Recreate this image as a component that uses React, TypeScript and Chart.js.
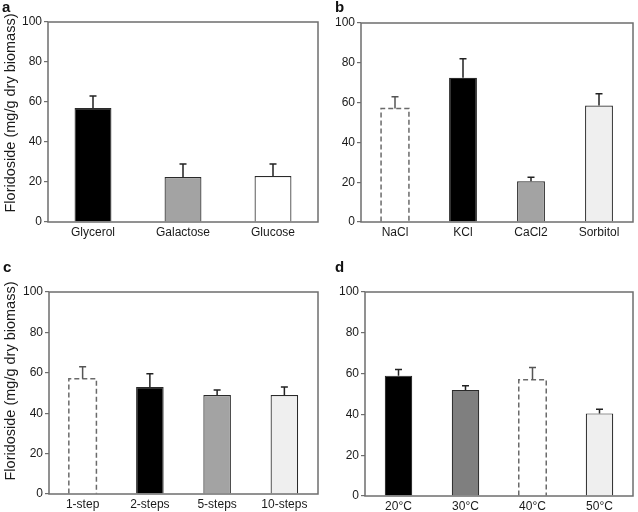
import React, { useEffect, useRef } from "react";
import { Chart, registerables } from "chart.js";

Chart.register(...registerables);

const yTicks = [0, 20, 40, 60, 80, 100];
const yTitle = "Floridoside (mg/g dry biomass)";

const catsA = ["Glycerol", "Galactose", "Glucose"];
const valsA = [57, 22.5, 23];
const errA = [6, 6.5, 6];
const colorsA = ["#000000", "#a3a3a3", "#ffffff"];
const dashA = [false, false, false];

const catsB = ["NaCl", "KCl", "CaCl2", "Sorbitol"];
const valsB = [57, 72.5, 20.5, 58.5];
const errB = [6, 9.5, 2, 6];
const colorsB = ["rgba(0,0,0,0)", "#000000", "#a3a3a3", "#efefef"];
const dashB = [true, false, false, false];

const catsC = ["1-step", "2-steps", "5-steps", "10-steps"];
const valsC = [57, 53, 49, 49];
const errC = [6, 6.5, 2.5, 4];
const colorsC = ["rgba(0,0,0,0)", "#000000", "#a3a3a3", "#efefef"];
const dashC = [true, false, false, false];

const catsD = ["20°C", "30°C", "40°C", "50°C"];
const valsD = [59, 52, 57, 40.5];
const errD = [3, 2, 6, 2];
const colorsD = ["#000000", "#7f7f7f", "rgba(0,0,0,0)", "#efefef"];
const dashD = [false, false, true, false];

const FONT = "'Liberation Sans', Arial, sans-serif";

type PanelProps = {
  letter: string;
  labels: string[];
  values: number[];
  errors: number[];
  colors: string[];
  dashed: boolean[];
  showTitle: boolean;
  titleX?: number;
  titleY?: number;
  left: number;
  top: number;
  width: number;
  height: number;
  area: { l: number; t: number; r: number; b: number };
  letterX: number;
  letterY: number;
};

function Panel(p: PanelProps) {
  const ref = useRef<HTMLCanvasElement | null>(null);
  useEffect(() => {
    if (!ref.current) return;
    const errPlugin = {
      id: "errbars",
      afterDatasetsDraw(chart: any) {
        const ctx = chart.ctx;
        const meta = chart.getDatasetMeta(0);
        const ys = chart.scales.y;
        ctx.save();
        meta.data.forEach((el: any, i: number) => {
          const half = el.width / 2;
          const yTop = el.y;
          const yBase = el.base;
          if (p.dashed[i]) {
            ctx.strokeStyle = "#6a6a6a";
            ctx.lineWidth = 1.5;
            ctx.setLineDash([5, 3]);
            ctx.beginPath();
            ctx.moveTo(el.x - half, yBase);
            ctx.lineTo(el.x - half, yTop);
            ctx.lineTo(el.x + half, yTop);
            ctx.lineTo(el.x + half, yBase);
            ctx.stroke();
            ctx.setLineDash([]);
          }
          const yErr = ys.getPixelForValue(p.values[i] + p.errors[i]);
          ctx.strokeStyle = p.dashed[i] ? "#555555" : "#222222";
          ctx.lineWidth = 1.5;
          ctx.beginPath();
          ctx.moveTo(el.x, yTop);
          ctx.lineTo(el.x, yErr);
          ctx.moveTo(el.x - 3.5, yErr);
          ctx.lineTo(el.x + 3.5, yErr);
          ctx.stroke();
        });
        ctx.restore();
      },
      afterDraw(chart: any) {
        const ctx = chart.ctx;
        const a = chart.chartArea;
        ctx.save();
        ctx.strokeStyle = "#6e6e6e";
        ctx.lineWidth = 1.5;
        ctx.strokeRect(a.left, a.top, a.right - a.left, a.bottom - a.top);
        ctx.fillStyle = "#111111";
        ctx.font = "bold 15px " + FONT;
        ctx.textBaseline = "middle";
        ctx.textAlign = "left";
        ctx.fillText(p.letter, p.letterX, p.letterY);
        if (p.showTitle) {
          ctx.translate(p.titleX || 11, p.titleY || 112);
          ctx.rotate(-Math.PI / 2);
          ctx.textAlign = "center";
          ctx.font = "14.5px " + FONT;
          ctx.fillStyle = "#1a1a1a";
          ctx.fillText(yTitle, 0, 0);
        }
        ctx.restore();
      },
    };
    const chart = new Chart(ref.current, {
      type: "bar",
      data: {
        labels: p.labels,
        datasets: [
          {
            data: p.values,
            backgroundColor: p.colors,
            borderColor: p.dashed.map((d) => (d ? "rgba(0,0,0,0)" : "#2a2a2a")),
            borderWidth: p.dashed.map((d) => (d ? 0 : 1.2)),
            borderSkipped: "bottom",
            barPercentage: 0.41,
            categoryPercentage: 1,
          },
        ],
      },
      options: {
        animation: false,
        responsive: false,
        devicePixelRatio: 1,
        layout: {
          padding: {
            left: 0,
            top: p.area.t,
            right: p.width - p.area.r,
            bottom: 0,
          },
        },
        plugins: {
          legend: { display: false },
          tooltip: { enabled: false },
        },
        scales: {
          x: {
            grid: { display: false, drawTicks: false },
            border: { display: false },
            ticks: {
              color: "#1a1a1a",
              font: { family: FONT, size: 12 },
              padding: 3,
              maxRotation: 0,
              autoSkip: false,
            },
            afterFit(scale: any) {
              scale.height = p.height - p.area.b;
            },
          },
          y: {
            min: 0,
            max: 100,
            afterBuildTicks(scale: any) {
              scale.ticks = yTicks.map((v) => ({ value: v }));
            },
            grid: {
              display: true,
              drawOnChartArea: false,
              drawTicks: true,
              tickLength: 4,
              color: "#6e6e6e",
              lineWidth: 1.2,
            },
            border: { display: false },
            ticks: {
              color: "#1a1a1a",
              font: { family: FONT, size: 12 },
              padding: 2,
            },
            title: { display: false },
            afterFit(scale: any) {
              scale.width = p.area.l;
            },
          },
        },
      },
      plugins: [errPlugin],
    } as any);
    return () => chart.destroy();
  }, []);
  return (
    <canvas
      ref={ref}
      width={p.width}
      height={p.height}
      style={{
        position: "absolute",
        left: p.left,
        top: p.top,
        width: p.width,
        height: p.height,
      }}
    />
  );
}

export default function App() {
  return (
    <div
      style={{
        position: "fixed",
        left: 0,
        top: 0,
        width: 638,
        height: 512,
        background: "#ffffff",
        overflow: "hidden",
      }}
    >
      <Panel
        letter="a"
        labels={catsA}
        values={valsA}
        errors={errA}
        colors={colorsA}
        dashed={dashA}
        showTitle={true}
        titleX={11}
        titleY={113}
        left={0}
        top={0}
        width={320}
        height={250}
        area={{ l: 48, t: 22, r: 318, b: 222 }}
        letterX={2}
        letterY={8}
      />
      <Panel
        letter="b"
        labels={catsB}
        values={valsB}
        errors={errB}
        colors={colorsB}
        dashed={dashB}
        showTitle={false}
        left={320}
        top={0}
        width={318}
        height={250}
        area={{ l: 41, t: 23, r: 313, b: 222 }}
        letterX={15}
        letterY={8}
      />
      <Panel
        letter="c"
        labels={catsC}
        values={valsC}
        errors={errC}
        colors={colorsC}
        dashed={dashC}
        showTitle={true}
        titleX={11}
        titleY={131}
        left={0}
        top={250}
        width={320}
        height={262}
        area={{ l: 49, t: 42, r: 318, b: 244 }}
        letterX={3}
        letterY={18}
      />
      <Panel
        letter="d"
        labels={catsD}
        values={valsD}
        errors={errD}
        colors={colorsD}
        dashed={dashD}
        showTitle={false}
        left={320}
        top={250}
        width={318}
        height={262}
        area={{ l: 45, t: 42, r: 313, b: 246 }}
        letterX={15}
        letterY={18}
      />
    </div>
  );
}
